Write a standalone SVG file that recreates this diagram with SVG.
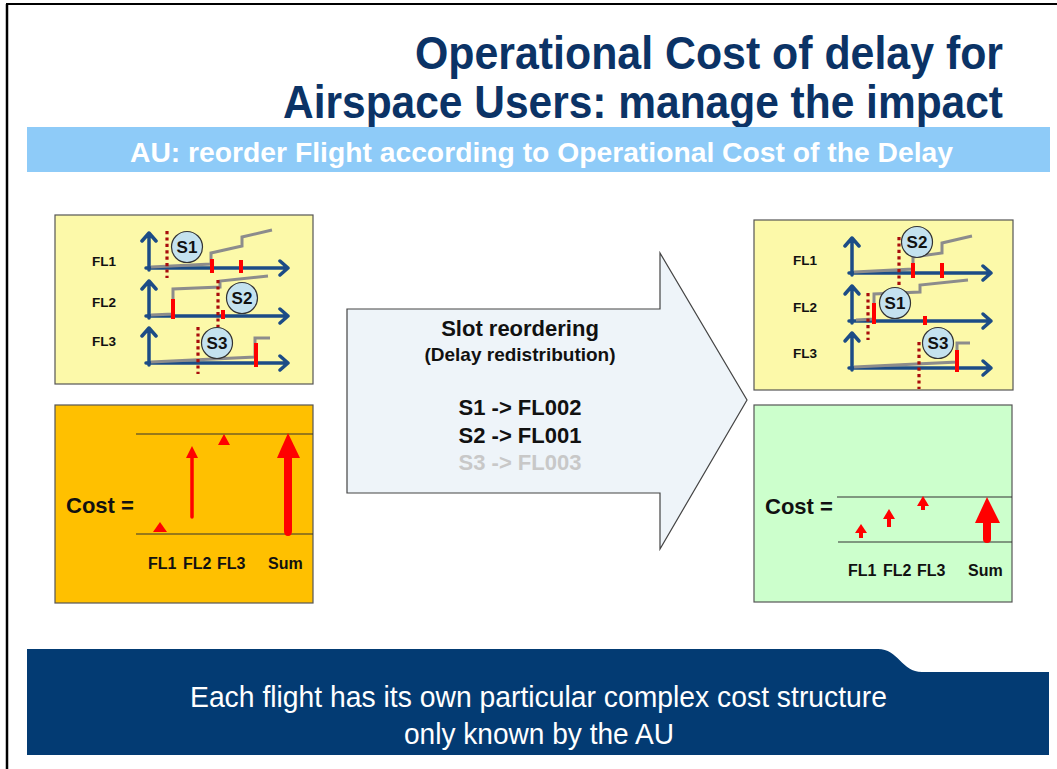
<svg xmlns="http://www.w3.org/2000/svg" xmlns:xlink="http://www.w3.org/1999/xlink" width="1057" height="769" viewBox="0 0 1057 769">
  <style>
    .title { font-family: "Liberation Sans", Arial, sans-serif; font-weight: bold; fill: #0b3366; font-size: 46px; }
    .sub { font-family: "Liberation Sans", Arial, sans-serif; font-weight: bold; fill: #ffffff; font-size: 27px; }
    .foot { font-family: "Liberation Sans", Arial, sans-serif; fill: #ffffff; font-size: 30px; }
    .lbl { font-family: "Liberation Sans", Arial, sans-serif; font-weight: bold; fill: #111; font-size: 13.5px; }
    .axlbl { font-family: "Liberation Sans", Arial, sans-serif; font-weight: bold; fill: #111; font-size: 16px; }
    .cost { font-family: "Liberation Sans", Arial, sans-serif; font-weight: bold; fill: #111; font-size: 22px; }
    .slot { font-family: "Liberation Sans", Arial, sans-serif; font-weight: bold; fill: #111; text-anchor: middle; }
    .panel { stroke: #555; stroke-width: 1.2; }
    .axis { fill: none; stroke: #1c4c86; stroke-width: 3.5; stroke-linecap: round; stroke-linejoin: round; }
    .curve { fill: none; stroke: #8c8c8c; stroke-width: 3; stroke-linejoin: miter; }
    .mark { stroke: #ff0000; stroke-width: 4; }
    .slotline { stroke: #a80c0c; stroke-width: 3.2; stroke-dasharray: 3.2 3.2; }
    .bubble { fill: #c4e2ef; stroke: #333; stroke-width: 1.2; }
    .btxt { font-family: "Liberation Sans", Arial, sans-serif; font-weight: bold; fill: #111; font-size: 17px; text-anchor: middle; }
    .level { stroke: #333; stroke-width: 1.1; }
    .red { fill: #ff0000; }
  </style>
  <defs>
    <!-- time/cost axes with open chevron heads, origin at the corner -->
    <path id="axes" class="axis" d="M0,2 V-35 M-7,-27 L0,-35 L7,-27 M-3,0 H139 M131,-7 L139,0 L131,7"/>
  </defs>

  <!-- page frame -->
  <g id="frame">
    <line x1="6" y1="4" x2="1057" y2="4" stroke="#000" stroke-width="2"/>
    <line x1="7" y1="4" x2="7" y2="769" stroke="#000" stroke-width="2.5"/>
  </g>

  <!-- heading -->
  <g id="heading">
    <text class="title" x="415" y="69" textLength="588" lengthAdjust="spacingAndGlyphs">Operational Cost of delay for</text>
    <text class="title" x="283" y="118" textLength="720" lengthAdjust="spacingAndGlyphs">Airspace Users: manage the impact</text>
    <rect x="27" y="127" width="1023" height="45" fill="#8ecbf8"/>
    <text class="sub" x="130" y="162" textLength="823" lengthAdjust="spacingAndGlyphs">AU: reorder Flight according to Operational Cost of the Delay</text>
  </g>

  <!-- slot chart before reordering -->
  <g id="slots-before">
    <rect class="panel" x="55" y="215" width="258" height="169" fill="#fcf9a9"/>
    <text class="lbl" x="92" y="266">FL1</text>
    <text class="lbl" x="92" y="307">FL2</text>
    <text class="lbl" x="92" y="346">FL3</text>
    <use xlink:href="#axes" x="149" y="268"/>
    <use xlink:href="#axes" x="149" y="316"/>
    <use xlink:href="#axes" x="149" y="363"/>
    <path class="curve" d="M151,267 L211,264 L211,253 L242,246 L242,237 L272,230"/>
    <path class="curve" d="M151,315 L173,314 L173,289 L220,287 L220,281 L268,276"/>
    <path class="curve" d="M151,362 L255,357 L255,338 L270,338"/>
    <line class="mark" x1="212" y1="259" x2="212" y2="273"/>
    <line class="mark" x1="241" y1="260" x2="241" y2="273"/>
    <line class="mark" x1="173" y1="299" x2="173" y2="319"/>
    <line class="mark" x1="223" y1="310" x2="223" y2="319"/>
    <line class="mark" x1="256" y1="343" x2="256" y2="367"/>
    <line class="slotline" x1="167" y1="231" x2="167" y2="278"/>
    <line class="slotline" x1="218" y1="280" x2="218" y2="327"/>
    <line class="slotline" x1="198" y1="327" x2="198" y2="374"/>
    <circle class="bubble" cx="187" cy="247" r="15.5"/>
    <text class="btxt" x="187" y="253">S1</text>
    <circle class="bubble" cx="242" cy="298" r="15.5"/>
    <text class="btxt" x="242" y="304">S2</text>
    <circle class="bubble" cx="217" cy="343" r="15.5"/>
    <text class="btxt" x="217" y="349">S3</text>
  </g>

  <!-- cost before reordering -->
  <g id="cost-before">
    <rect class="panel" x="55" y="405" width="258" height="198" fill="#ffc000"/>
    <text class="cost" x="66" y="513">Cost =</text>
    <line class="level" x1="136" y1="434" x2="313" y2="434"/>
    <line class="level" x1="136" y1="534" x2="313" y2="534"/>
    <polygon class="red" points="153,532 160,522 167,532"/>
    <line x1="192" y1="517" x2="192" y2="455" stroke="#ff0000" stroke-width="3.5" stroke-linecap="round"/>
    <polygon class="red" points="186,458 192,446 198,458"/>
    <polygon class="red" points="218,445 224,434 230,445"/>
    <path class="red" d="M284,456 H292 V531 Q292,536 288,536 Q284,536 284,531 Z"/>
    <polygon class="red" points="277,458 288,433 300,458"/>
    <text class="axlbl" x="148" y="569">FL1</text>
    <text class="axlbl" x="183" y="569">FL2</text>
    <text class="axlbl" x="217" y="569">FL3</text>
    <text class="axlbl" x="268" y="569">Sum</text>
  </g>

  <!-- reordering step -->
  <g id="reordering">
    <polygon points="347,309 660,309 660,253 747,400 660,549 660,493 347,493" fill="#eef4f9" stroke="#444" stroke-width="1.2"/>
    <text class="slot" x="520" y="336" font-size="22">Slot reordering</text>
    <text class="slot" x="520" y="361" font-size="19">(Delay redistribution)</text>
    <text class="slot" x="520" y="415" font-size="22">S1 -&gt; FL002</text>
    <text class="slot" x="520" y="443" font-size="22">S2 -&gt; FL001</text>
    <text class="slot" x="520" y="470" font-size="22" style="fill:#c8c8c8">S3 -&gt; FL003</text>
  </g>

  <!-- slot chart after reordering -->
  <g id="slots-after">
    <rect class="panel" x="754" y="220" width="259" height="170" fill="#fcf9a9"/>
    <text class="lbl" x="793" y="265">FL1</text>
    <text class="lbl" x="793" y="312">FL2</text>
    <text class="lbl" x="793" y="358">FL3</text>
    <use xlink:href="#axes" x="852" y="273"/>
    <use xlink:href="#axes" x="852" y="321"/>
    <use xlink:href="#axes" x="852" y="368"/>
    <path class="curve" d="M854,272 L913,269 L913,257 L942,253 L942,243 L972,236"/>
    <path class="curve" d="M856,320 L874,319 L874,294 L920,292 L920,285 L968,280"/>
    <path class="curve" d="M854,367 L957,362 L957,343 L970,343"/>
    <line class="mark" x1="913" y1="263" x2="913" y2="278"/>
    <line class="mark" x1="942" y1="263" x2="942" y2="278"/>
    <line class="mark" x1="874" y1="303" x2="874" y2="324"/>
    <line class="mark" x1="925" y1="316" x2="925" y2="325"/>
    <line class="mark" x1="957" y1="350" x2="957" y2="372"/>
    <line class="slotline" x1="899" y1="237" x2="899" y2="285"/>
    <line class="slotline" x1="868" y1="293" x2="868" y2="340"/>
    <line class="slotline" x1="919" y1="342" x2="919" y2="389"/>
    <circle class="bubble" cx="917" cy="242" r="15.5"/>
    <text class="btxt" x="917" y="248">S2</text>
    <circle class="bubble" cx="895" cy="303" r="15.5"/>
    <text class="btxt" x="895" y="309">S1</text>
    <circle class="bubble" cx="938" cy="343" r="15.5"/>
    <text class="btxt" x="938" y="349">S3</text>
  </g>

  <!-- cost after reordering -->
  <g id="cost-after">
    <rect class="panel" x="754" y="405" width="258" height="197" fill="#ccffcc"/>
    <text class="cost" x="765" y="514">Cost =</text>
    <line class="level" x1="837" y1="497" x2="1012" y2="497"/>
    <line class="level" x1="838" y1="542" x2="1012" y2="542"/>
    <polygon class="red" points="855,533 861,524 867,533"/>
    <rect class="red" x="859" y="532" width="4" height="6"/>
    <polygon class="red" points="883,519 889,509 895,519"/>
    <rect class="red" x="887" y="518" width="4" height="9"/>
    <polygon class="red" points="917,506 923,496 929,506"/>
    <rect class="red" x="921" y="505" width="4" height="5"/>
    <path class="red" d="M983,521 H991 V539 Q991,543 987,543 Q983,543 983,539 Z"/>
    <polygon class="red" points="975,523 987,497 1000,523"/>
    <text class="axlbl" x="848" y="576">FL1</text>
    <text class="axlbl" x="883" y="576">FL2</text>
    <text class="axlbl" x="917" y="576">FL3</text>
    <text class="axlbl" x="968" y="576">Sum</text>
  </g>

  <!-- footer banner -->
  <g id="footer">
    <path d="M27,649 L878,649 C898,649 902,672 922,672 L1049,672 L1049,755 L27,755 Z" fill="#033b73"/>
    <text class="foot" x="190" y="707" textLength="697" lengthAdjust="spacingAndGlyphs">Each flight has its own particular complex cost structure</text>
    <text class="foot" x="404" y="744" textLength="270" lengthAdjust="spacingAndGlyphs">only known by the AU</text>
  </g>
</svg>
